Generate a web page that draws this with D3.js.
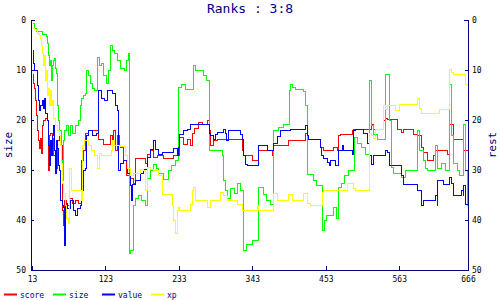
<!DOCTYPE html>
<html lang="en">
<head>
<meta charset="UTF-8">
<title>Ranks : 3:8</title>
<script src="https://d3js.org/d3.v7.min.js"></script>
<style>
    body { margin: 0; background: #ffffff; }
    svg { display: block; }
    text { font-family: "DejaVu Sans Mono", monospace; }
</style>
</head>
<body>
<svg width="500" height="300"></svg>
<script>
const xTicks = [13, 123, 233, 343, 453, 563, 666];
const yTicks = [0, 10, 20, 30, 40, 50];

// score (red)
const scoreX = [13,14,16,17,19,20,22,23,25,26,28,29,32,35,37,38,40,43,44,47,50,53,56,58,59,61,64,68,73,77,82,86,89,92,97,112,119,130,133,134,137,140,143,145,149,154,160,164,167,182,185,190,194,200,209,224,233,239,245,250,253,256,262,268,275,278,280,284,290,328,329,343,352,373,374,397,422,425,445,449,464,470,472,475,493,494,520,524,539,542,545,560,565,569,584,590,595,599,605,613,617,635,637,643,644,659];
const scoreY = [10.7,12.5,13.5,16,19,22,24,25.5,23.5,26.5,21,20,19.5,20,30,23,22.5,23.5,27,29.5,24,22,25,38,41,36,37,35.5,36.5,36,36.5,28,26,22.5,22,23.7,24.7,23,24,22,26,23,25,25.3,28,31,31.5,32.5,27.5,28.5,26.7,26,27.3,27,27.5,27,23.3,24.8,23.7,25,22.5,21.5,20.3,20.7,20,22,25,24,23.8,26,27,28,26,27,25,24,22.5,23.7,25.3,26,25.3,26,23,22.7,22,21.7,20.8,21.7,20,19.5,19.7,21.7,22.3,21.8,22.7,23,25.3,26.3,28,27,26,26.7,20.8,23.2,23.7,26];

// size (green)
const sizeX = [13,16,19,28,34,36,37,38,40,41,43,44,46,47,49,50,52,53,56,58,59,61,64,67,70,73,77,82,85,86,89,92,94,97,100,103,106,110,113,116,119,124,127,130,133,136,140,145,151,154,157,158,160,164,167,172,176,182,185,190,194,199,202,209,217,221,227,232,236,242,254,257,269,274,278,298,299,302,305,310,316,320,325,329,334,343,352,359,364,370,374,382,389,398,400,403,407,419,422,425,434,439,448,451,454,464,469,472,476,481,487,496,500,505,511,517,520,523,529,542,547,550,554,565,572,590,593,598,602,605,617,620,626,631,637,640,641,644,650,652,659,662,665];
const sizeY = [0.5,1.5,2.2,2.7,3.2,4.5,7,9,8,12,9,8,7.5,9.5,10.5,17,20,22,28,32,24,22,21,23,21,22.5,21,20,17,15.5,15,14.5,10,11,12.5,13.5,14,7.3,9,8.5,11,12.5,10,5,6,6.6,8,9.5,10,8,6.6,46.5,46,37,35.5,35,36,37,31.5,30,28.7,29.5,30.5,31.8,30,29,28,13.3,12.7,13.7,9,10,11,12,26,27,32,34,35.5,33.5,34.5,32.5,34,46,44.7,44,33.3,34.7,36,36.7,22,21.3,20.7,14,12.7,13.3,13.7,14.2,17,30.7,32,33,42,40,39,37.3,39.5,33.3,32.5,31,30,23.3,24.5,25.3,26.7,12,21,22.7,23.7,10.7,20,29.3,30.5,31.3,30,22,26,28,29.5,30,25,29.5,28.5,30,12.7,14,23,28.5,30,31,20.7,30,37];

// value (blue)
const valueX = [13,14,16,20,22,23,25,28,29,31,32,35,37,38,40,41,43,44,46,47,49,50,52,53,55,58,59,61,62,65,70,74,77,80,85,86,89,92,94,97,103,109,112,116,121,125,133,137,140,142,145,149,155,160,161,163,167,175,179,185,190,194,197,202,208,224,230,232,233,239,245,250,278,280,284,287,290,299,302,304,307,325,328,329,332,335,352,365,374,380,385,400,422,425,427,445,446,449,455,458,460,467,472,478,479,493,494,497,508,514,515,517,520,524,542,545,547,565,568,590,595,599,617,619,620,628,637,640,643,644,655,658,659,662];
const valueY = [6,8.5,10,13,16,18,17,16,17.5,15.5,18.5,20,25,29,24,27,23,21,26,30.5,24,25.5,29,30,36,37,37.3,45,36.5,37.5,36,38,39,37.5,37,34,30,29.5,23,22,23,22.5,14,15.5,16,14,14.5,17,18,30,28.5,28,30.5,33,36,32.8,32,30.5,29.7,27.3,25.7,24,25.7,26.7,26.3,25.5,27,25.3,22.7,22,21.7,20.8,22.5,23,23.7,22.8,22.3,21.7,22.5,24,22,22.7,23.7,27,28.7,29,25,26,24.5,23.2,22,21.7,21,23,23.7,25.3,27,27.5,28.3,29,28,29,26,25,26,26.7,22,21.7,22.5,23,24.5,27,28.7,27,26,26.3,29,31,32.7,34,37,36,35,37,32,32.8,31.3,32.5,34.3,35,34,35,33,36.7];

// xp (yellow)
const xpX = [13,16,19,20,23,25,26,28,29,31,32,34,35,37,38,40,41,43,44,47,50,53,55,56,58,59,62,64,67,68,71,86,88,91,97,101,106,110,113,116,131,133,136,145,152,155,160,164,175,179,182,185,190,194,202,208,223,224,227,230,232,233,250,253,254,257,275,280,295,299,305,320,328,350,352,374,380,397,403,419,425,430,448,449,485,494,497,517,520,524,527,539,542,545,557,562,590,592,595,622,637,640,644,662];
const xpY = [1.5,1.8,2,2.5,3,3.5,5,6.5,9,7,12,10,15,13.5,17,14,17,16,19.5,21,22,23,25,28.5,32.5,34.5,37,39.5,40.5,29.5,33.9,35.9,25,24,25,26,27,29.5,26.5,27,26,24,24.9,25.2,27,29.5,31,30.5,29.8,30,34,29.3,29.7,30,31,34.7,37,40,42.5,38,37.3,38,36.7,34,33.3,36,37.3,36,34.3,35,36,36.7,38,37,38,34.5,36,34.7,36,34.5,36.5,37,34.3,34,32.5,33.5,34,22.5,23,23.5,21.8,17,17.7,17,18,16.8,15.5,17.5,18.6,17.8,9.8,10.3,10.8,12.7];

const series = [
    { name: "score", color: "#ff0000", xs: scoreX, ys: scoreY },
    { name: "size",  color: "#00ff00", xs: sizeX,  ys: sizeY },
    { name: "value", color: "#0000ff", xs: valueX, ys: valueY },
    { name: "xp",    color: "#ffff00", xs: xpX,    ys: xpY }
];

const navy = "#000080";
const svg = d3.select("svg");
const x = d3.scaleLinear().domain([13, 666]).range([32, 468]);
const y = d3.scaleLinear().domain([0, 50]).range([20, 270]);

svg.append("clipPath").attr("id", "plot")
    .append("rect")
    .attr("x", 32).attr("y", 19)
    .attr("width", 437).attr("height", 252);

const line = d3.line()
    .x(d => x(d[0]) + 0.5)
    .y(d => y(d[1]) + 0.5)
    .curve(d3.curveStepAfter);

const lines = svg.append("g").attr("clip-path", "url(#plot)");
series.forEach(s => {
    const pts = s.xs.map((v, i) => [v, s.ys[i]]);
    pts.push([666, s.ys[s.ys.length - 1]]);
    lines.append("path")
        .datum(pts)
        .attr("fill", "none")
        .attr("stroke", s.color)
        .attr("stroke-width", 1)
        .attr("shape-rendering", "crispEdges")
        .attr("d", line);
});

// axes
const axisLeft = svg.append("g")
    .attr("transform", "translate(31,0)")
    .call(d3.axisLeft(y).tickValues(yTicks).tickSizeInner(-3).tickSizeOuter(-4).tickPadding(5));

const axisRight = svg.append("g")
    .attr("transform", "translate(468,0)")
    .call(d3.axisRight(y).tickValues(yTicks).tickSizeInner(-3).tickSizeOuter(-4).tickPadding(4));

const axisBottom = svg.append("g")
    .attr("transform", "translate(0,270)")
    .call(d3.axisBottom(x).tickValues(xTicks).tickSizeInner(-4).tickSizeOuter(0).tickPadding(6));

[axisLeft, axisRight, axisBottom].forEach(g => {
    g.selectAll("path, line").attr("stroke", navy).attr("shape-rendering", "crispEdges");
    g.selectAll("text").attr("fill", "#000").style("font-size", "8px");
});

// title and axis labels
svg.append("text")
    .attr("x", 250).attr("y", 13)
    .attr("text-anchor", "middle")
    .attr("fill", navy)
    .style("font-size", "13px")
    .text("Ranks : 3:8");

svg.append("text")
    .attr("transform", "translate(12,145) rotate(-90)")
    .attr("text-anchor", "middle")
    .attr("fill", navy)
    .style("font-size", "11px")
    .text("size");

svg.append("text")
    .attr("transform", "translate(496,145) rotate(-90)")
    .attr("text-anchor", "middle")
    .attr("fill", navy)
    .style("font-size", "11px")
    .text("rest");

// legend
const legend = svg.append("g").selectAll("g")
    .data(series)
    .join("g")
    .attr("transform", (d, i) => `translate(${4 + i * 49},294)`);

legend.append("line")
    .attr("x1", 0).attr("x2", 13)
    .attr("y1", 0.5).attr("y2", 0.5)
    .attr("stroke", d => d.color)
    .attr("stroke-width", 2);

legend.append("text")
    .attr("x", 16).attr("y", 3.5)
    .attr("fill", navy)
    .style("font-size", "8px")
    .text(d => d.name);
</script>
</body>
</html>
